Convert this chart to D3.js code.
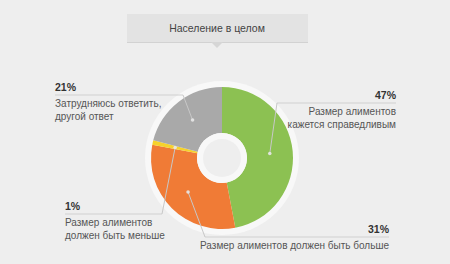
<!DOCTYPE html>
<html>
<head>
<meta charset="utf-8">
<script src="https://cdn.jsdelivr.net/npm/d3@7"></script>
<style>
  body { margin: 0; background: #eeeeee; }
  svg { display: block; font-family: "Liberation Sans", Arial, sans-serif; }
</style>
</head>
<body>
<script>
// chart data
const title = "Население в целом";
const categories = [
    ["Размер алиментов", "кажется справедливым"],
    ["Размер алиментов должен быть больше"],
    ["Размер алиментов", "должен быть меньше"],
    ["Затрудняюсь ответить,", "другой ответ"],
];
const values = [47, 31, 1, 21];
const colors = ["#8cc152", "#f07b36", "#f6d22c", "#a9a9a9"];

// label placement (x, y of the percent text, underline extent, text anchor)
const labelLayout = [
    { x: 396, y: 99, x0: 277, x1: 396, anchor: "end" },
    { x: 389, y: 233, x0: 205, x1: 389, anchor: "end" },
    { x: 65, y: 210, x0: 65, x1: 162, anchor: "start" },
    { x: 55, y: 91, x0: 55, x1: 183, anchor: "start" },
];

const width = 450, height = 264;
const cx = 222, cy = 158;

const svg = d3.select("body").append("svg").attr("width", width).attr("height", height);

// title box
{
    const box = svg.append("g").attr("class", "title-box");
    box.append("rect").attr("x", 127).attr("y", 15).attr("width", 181).attr("height", 28).attr("fill", "#d2d2d2");
    box.append("rect").attr("x", 127).attr("y", 14).attr("width", 181).attr("height", 28).attr("fill", "#e3e3e3");
    box.append("path").attr("d", "M211,42 L217,48 L223,42 Z").attr("fill", "#d6d6d6");
    box.append("text")
        .attr("x", 217)
        .attr("y", 32)
        .attr("text-anchor", "middle")
        .attr("font-size", 10.5)
        .attr("fill", "#444")
        .text(title);
}

// donut
const pie = d3.pie().sort(null).value((d) => d);
const arcs = pie(values);
const arc = d3.arc().innerRadius(25).outerRadius(71);
const dotArc = d3.arc().innerRadius(48).outerRadius(48);

const g = svg.append("g").attr("transform", `translate(${cx},${cy})`);
g.append("circle").attr("r", 77).attr("fill", "#f8f8f8");
g.selectAll("path.slice")
    .data(arcs)
    .enter()
    .append("path")
    .attr("class", "slice")
    .attr("d", arc)
    .attr("fill", (d, i) => colors[i]);
g.append("circle").attr("r", 25).attr("fill", "#f8f8f8");
g.append("circle").attr("r", 19).attr("fill", "#eeeeee");

// labels + leader lines
const labels = svg.append("g").attr("class", "labels");
arcs.forEach((a, i) => {
    const L = labelLayout[i];
    const [dx, dy] = dotArc.centroid(a);
    const px = cx + dx, py = cy + dy;
    const lineY = L.y + 4;
    const elbowX = L.anchor === "end" ? L.x0 : L.x1;

    labels.append("line")
        .attr("x1", L.x0).attr("x2", L.x1)
        .attr("y1", lineY).attr("y2", lineY)
        .attr("stroke", "#d0d0d0").attr("stroke-width", 1);
    labels.append("line")
        .attr("x1", elbowX).attr("y1", lineY)
        .attr("x2", px).attr("y2", py)
        .attr("stroke", "#c8c8c8").attr("stroke-width", 1);
    labels.append("circle").attr("cx", px).attr("cy", py).attr("r", 1.8)
        .attr("fill", "#e8e8e8").attr("opacity", 0.9);

    labels.append("text")
        .attr("x", L.x).attr("y", L.y)
        .attr("text-anchor", L.anchor)
        .attr("font-size", 10.5).attr("font-weight", "bold").attr("fill", "#333")
        .text(values[i] + "%");
    categories[i].forEach((line, j) => {
        labels.append("text")
            .attr("x", L.x).attr("y", L.y + 16 + j * 13)
            .attr("text-anchor", L.anchor)
            .attr("font-size", 10).attr("fill", "#555")
            .text(line);
    });
});
</script>
</body>
</html>
